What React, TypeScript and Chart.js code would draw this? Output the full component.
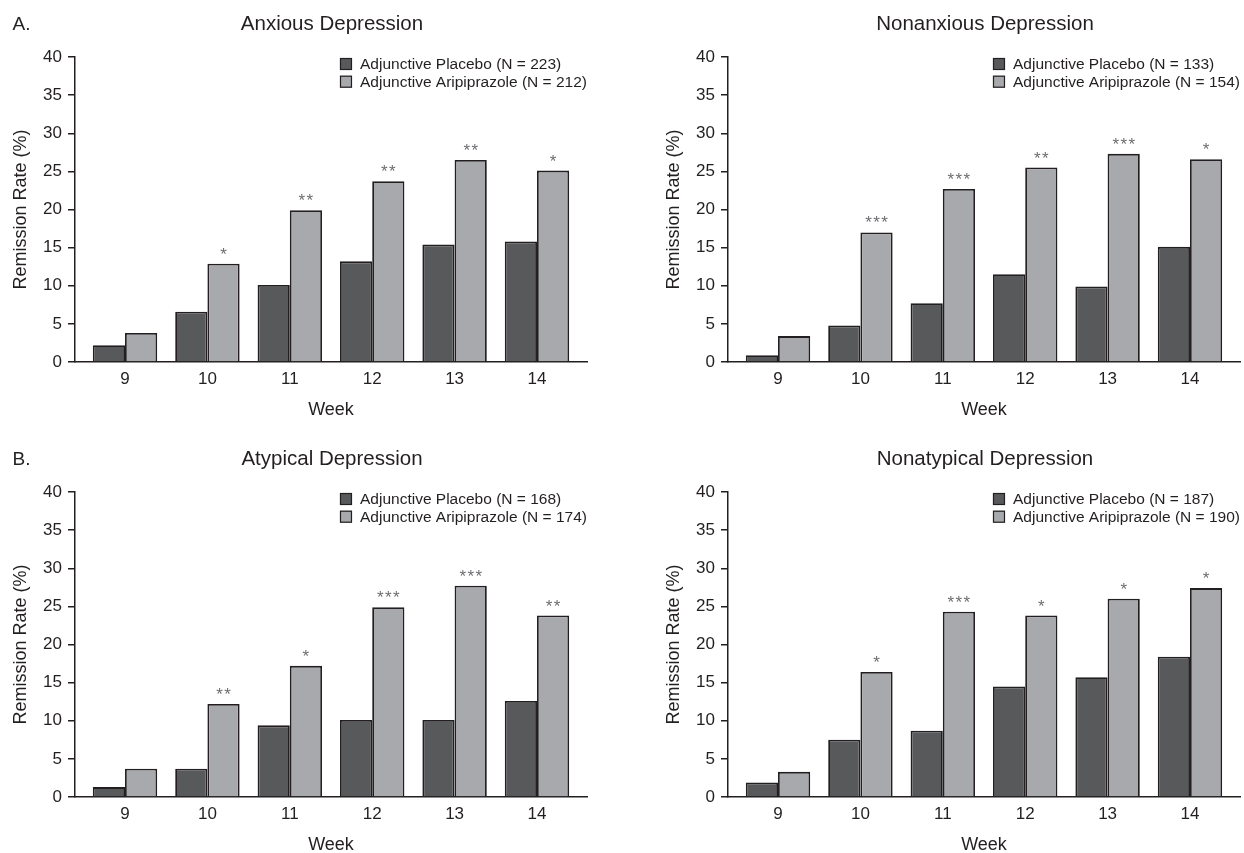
import React, { useEffect, useRef } from "react";
import { Chart, registerables } from "chart.js";

Chart.register(...registerables);

// ---------- data ----------
const weeks = [9, 10, 11, 12, 13, 14];

const anxiousPlacebo = [2.2, 6.6, 10.1, 13.2, 15.4, 15.8];
const anxiousAripiprazole = [3.8, 12.9, 19.9, 23.7, 26.5, 25.1];
const anxiousStars = ["", "*", "**", "**", "**", "*"];

const nonanxiousPlacebo = [0.9, 4.8, 7.7, 11.5, 9.9, 15.1];
const nonanxiousAripiprazole = [3.4, 17.0, 22.7, 25.5, 27.3, 26.6];
const nonanxiousStars = ["", "***", "***", "**", "***", "*"];

const atypicalPlacebo = [1.3, 3.7, 9.4, 10.1, 10.1, 12.6];
const atypicalAripiprazole = [3.7, 12.2, 17.2, 24.9, 27.7, 23.8];
const atypicalStars = ["", "**", "*", "***", "***", "**"];

const nonatypicalPlacebo = [1.9, 7.5, 8.7, 14.5, 15.7, 18.4];
const nonatypicalAripiprazole = [3.3, 16.4, 24.3, 23.8, 26.0, 27.4];
const nonatypicalStars = ["", "*", "***", "*", "*", "*"];

const panelTitles = ["Anxious Depression", "Nonanxious Depression", "Atypical Depression", "Nonatypical Depression"];
const panelLetters = ["A.", "", "B.", ""];
const placeboLabels = [
  "Adjunctive Placebo (N = 223)",
  "Adjunctive Placebo (N = 133)",
  "Adjunctive Placebo (N = 168)",
  "Adjunctive Placebo (N = 187)",
];
const aripiprazoleLabels = [
  "Adjunctive Aripiprazole (N = 212)",
  "Adjunctive Aripiprazole (N = 154)",
  "Adjunctive Aripiprazole (N = 174)",
  "Adjunctive Aripiprazole (N = 190)",
];
const yAxisTitle = "Remission Rate (%)";
const xAxisTitle = "Week";

const placeboSeries = [anxiousPlacebo, nonanxiousPlacebo, atypicalPlacebo, nonatypicalPlacebo];
const aripiprazoleSeries = [anxiousAripiprazole, nonanxiousAripiprazole, atypicalAripiprazole, nonatypicalAripiprazole];
const starSeries = [anxiousStars, nonanxiousStars, atypicalStars, nonatypicalStars];

// ---------- style ----------
const FONT = "'Liberation Sans', Arial, Helvetica, sans-serif";
const INK = "#231f20";
const DARK = "#58595b";
const LIGHT = "#a7a9ac";
const STAR = "#6d6e71";
const CW = 660;
const CH = 440;
const positions = [
  { left: 0, top: 0 },
  { left: 653, top: 0 },
  { left: 0, top: 435 },
  { left: 653, top: 435 },
];

Chart.defaults.font.family = FONT;
Chart.defaults.color = INK;

function Panel({ idx }: { idx: number }) {
  const ref = useRef<HTMLCanvasElement | null>(null);

  useEffect(() => {
    if (!ref.current) return;
    const title = panelTitles[idx];
    const letter = panelLetters[idx];
    const stars = starSeries[idx];

    const decor = {
      id: "decor" + idx,
      afterDraw(chart: any) {
        const { ctx, chartArea } = chart;
        ctx.save();
        if (letter) {
          ctx.font = `19px ${FONT}`;
          ctx.fillStyle = INK;
          ctx.textAlign = "left";
          ctx.textBaseline = "middle";
          ctx.fillText(letter, 12.5, 24.5);
        }
        ctx.font = `20.5px ${FONT}`;
        ctx.fillStyle = INK;
        ctx.textAlign = "center";
        ctx.textBaseline = "middle";
        ctx.fillText(title, (chartArea.left + chartArea.right) / 2 + 1, 24.5);

        const meta = chart.getDatasetMeta(1);
        ctx.font = `17px ${FONT}`;
        ctx.fillStyle = STAR;
        ctx.textAlign = "center";
        ctx.textBaseline = "alphabetic";
        meta.data.forEach((bar: any, i: number) => {
          const s = stars[i] || "";
          const n = s.length;
          for (let k = 0; k < n; k++) {
            const x = bar.x + (k - (n - 1) / 2) * 8;
            ctx.fillText("*", x, bar.y - 4);
          }
        });

        ctx.font = `15.5px ${FONT}`;
        const ds = chart.data.datasets;
        let maxW = 0;
        ds.forEach((d: any) => {
          maxW = Math.max(maxW, ctx.measureText(d.label).width);
        });
        const textX = chartArea.right - maxW;
        ds.forEach((d: any, i: number) => {
          const cy = 65 + i * 17.7;
          ctx.fillStyle = d.backgroundColor;
          ctx.fillRect(textX - 20, cy - 7, 12, 12);
          ctx.strokeStyle = INK;
          ctx.lineWidth = 1.2;
          ctx.strokeRect(textX - 19.5, cy - 6.5, 11, 11);
          ctx.fillStyle = INK;
          ctx.textAlign = "left";
          ctx.textBaseline = "middle";
          ctx.fillText(d.label, textX, cy);
        });
        ctx.restore();
      },
    };

    const chart = new Chart(ref.current, {
      type: "bar",
      data: {
        datasets: [
          {
            label: placeboLabels[idx],
            data: weeks.map((w, i) => ({ x: w, y: placeboSeries[idx][i] })),
            backgroundColor: DARK,
            borderColor: INK,
            borderWidth: 1.8,
            barPercentage: 1,
            categoryPercentage: 0.782,
          },
          {
            label: aripiprazoleLabels[idx],
            data: weeks.map((w, i) => ({ x: w, y: aripiprazoleSeries[idx][i] })),
            backgroundColor: LIGHT,
            borderColor: INK,
            borderWidth: 1.8,
            barPercentage: 1,
            categoryPercentage: 0.782,
          },
        ],
      } as any,
      options: {
        animation: false,
        responsive: false,
        maintainAspectRatio: false,
        layout: { padding: { left: 0, top: 57, right: CW - 587, bottom: 0 } },
        plugins: {
          legend: { display: false },
          title: { display: false },
          tooltip: { enabled: false },
        },
        scales: {
          x: {
            type: "linear",
            offset: false,
            min: weeks[0] - 0.607,
            max: weeks[weeks.length - 1] + 0.607,
            afterFit: (s: any) => {
              s.height = CH - 362;
            },
            afterBuildTicks: (s: any) => {
              s.ticks = weeks.map((v) => ({ value: v }));
            },
            grid: { display: false, drawTicks: false },
            border: { display: true, color: INK, width: 1.5 },
            ticks: {
              font: { size: 17 },
              color: INK,
              padding: 6.8,
              autoSkip: false,
              maxRotation: 0,
              callback: (v: any) => String(v),
            },
            title: {
              display: true,
              text: xAxisTitle,
              font: { size: 18 },
              color: INK,
              padding: { top: 0, bottom: 19.2 },
            },
          },
          y: {
            type: "linear",
            min: 0,
            max: 40,
            afterFit: (s: any) => {
              s.width = 75;
            },
            grid: {
              display: true,
              drawOnChartArea: false,
              drawTicks: true,
              tickLength: 7,
              color: INK,
              lineWidth: 1.5,
            },
            border: { display: true, color: INK, width: 1.5 },
            ticks: {
              stepSize: 5,
              font: { size: 17 },
              color: INK,
              padding: 6,
            },
            title: {
              display: true,
              text: yAxisTitle,
              font: { size: 18 },
              color: INK,
              padding: { top: 10.5, bottom: 0 },
            },
          },
        },
      } as any,
      plugins: [decor],
    });
    return () => chart.destroy();
  }, [idx]);

  const pos = positions[idx];
  return (
    <canvas
      ref={ref}
      width={CW}
      height={CH}
      style={{ position: "absolute", left: pos.left, top: pos.top, width: CW, height: CH }}
    />
  );
}

export default function App() {
  return (
    <div
      style={{
        position: "absolute",
        left: 0,
        top: 0,
        width: 1244,
        height: 853,
        overflow: "hidden",
        background: "#ffffff",
      }}
    >
      {[0, 1, 2, 3].map((i) => (
        <Panel key={i} idx={i} />
      ))}
    </div>
  );
}
